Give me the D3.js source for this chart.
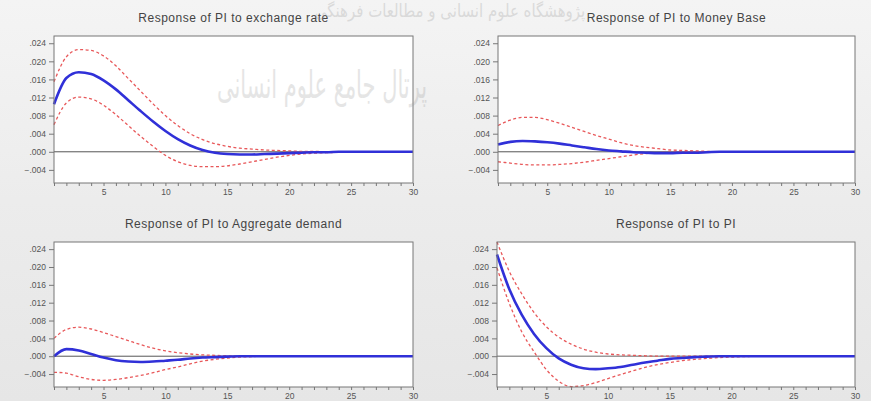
<!DOCTYPE html>
<html>
<head>
<meta charset="utf-8">
<script src="https://cdn.jsdelivr.net/npm/d3@7"></script>
<style>
  html, body { margin: 0; padding: 0; }
  body { width: 871px; height: 401px; overflow: hidden; }
  text { font-family: Arial, "Liberation Sans", sans-serif; }
</style>
</head>
<body>
<svg id="chart" width="871" height="401"></svg>
<script>
// periods 1..30
const periods = d3.range(1, 31);
const yTicks = [-0.004, 0, 0.004, 0.008, 0.012, 0.016, 0.020, 0.024];
const xTicks = [5, 10, 15, 20, 25, 30];

const titles = [
    "Response of PI to exchange rate",
    "Response of PI to Money Base",
    "Response of PI to Aggregate demand",
    "Response of PI to PI"
];

// response of PI to exchange rate
const exRate = [.0105, .0163, .0176, .0172, .0158, .0138, .0114, .0090, .0067, .0046,
    .0028, .0014, .0004, -.0002, -.0005, -.0006, -.0006, -.0005, -.0004, -.0003,
    -.0002, -.0001, -.0001, 0, 0, 0, 0, 0, 0, 0];
const exRateHi = [.0155, .0210, .0226, .0224, .0212, .0190, .0162, .0134, .0106, .0080,
    .0058, .0040, .0027, .0018, .0012, .0008, .0006, .0004, .0003, .0002,
    .0001, .0001, 0, 0, 0, 0, 0, 0, 0, 0];
const exRateLo = [.0060, .0108, .0121, .0117, .0103, .0082, .0058, .0034, .0012, -.0008,
    -.0022, -.0030, -.0033, -.0033, -.0031, -.0027, -.0022, -.0017, -.0012, -.0008,
    -.0005, -.0003, -.0002, -.0001, 0, 0, 0, 0, 0, 0];

// response of PI to money base
const money = [.0016, .0022, .0024, .0023, .0021, .0018, .0014, .0010, .0006, .0003,
    .0001, -.0001, -.0002, -.0003, -.0003, -.0002, -.0002, -.0001, 0, 0,
    0, 0, 0, 0, 0, 0, 0, 0, 0, 0];
const moneyHi = [.0058, .0070, .0076, .0076, .0071, .0063, .0054, .0045, .0036, .0028,
    .0020, .0014, .0010, .0007, .0004, .0003, .0002, .0001, 0, 0,
    0, 0, 0, 0, 0, 0, 0, 0, 0, 0];
const moneyLo = [-.0022, -.0025, -.0028, -.0029, -.0029, -.0028, -.0026, -.0023, -.0019, -.0015,
    -.0011, -.0007, -.0004, -.0002, -.0001, 0, 0, 0, 0, 0,
    0, 0, 0, 0, 0, 0, 0, 0, 0, 0];

// response of PI to aggregate demand
const demand = [0, .0016, .0013, .0005, -.0003, -.0009, -.0012, -.0013, -.0012, -.0010,
    -.0008, -.0005, -.0003, -.0002, -.0001, 0, 0, 0, 0, 0,
    0, 0, 0, 0, 0, 0, 0, 0, 0, 0];
const demandHi = [.0040, .0060, .0065, .0061, .0053, .0044, .0035, .0026, .0018, .0012,
    .0008, .0005, .0003, .0002, .0001, 0, 0, 0, 0, 0,
    0, 0, 0, 0, 0, 0, 0, 0, 0, 0];
const demandLo = [-.0036, -.0038, -.0046, -.0052, -.0054, -.0052, -.0048, -.0043, -.0037, -.0030,
    -.0024, -.0017, -.0011, -.0007, -.0004, -.0002, -.0001, 0, 0, 0,
    0, 0, 0, 0, 0, 0, 0, 0, 0, 0];

// response of PI to PI
const own = [.0228, .0150, .0093, .0050, .0018, -.0005, -.0019, -.0027, -.0029, -.0027,
    -.0024, -.0019, -.0014, -.0010, -.0006, -.0004, -.0002, -.0001, 0, 0,
    0, 0, 0, 0, 0, 0, 0, 0, 0, 0];
const ownHi = [.0256, .0190, .0140, .0098, .0066, .0043, .0027, .0016, .0009, .0005,
    .0003, .0002, .0001, 0, 0, 0, 0, 0, 0, 0,
    0, 0, 0, 0, 0, 0, 0, 0, 0, 0];
const ownLo = [.0198, .0118, .0055, .0010, -.0030, -.0056, -.0068, -.0066, -.0059, -.0050,
    -.0041, -.0033, -.0025, -.0019, -.0014, -.0010, -.0007, -.0005, -.0003, -.0002,
    -.0001, 0, 0, 0, 0, 0, 0, 0, 0, 0];

const series = [
    [exRate, exRateHi, exRateLo],
    [money, moneyHi, moneyLo],
    [demand, demandHi, demandLo],
    [own, ownHi, ownLo]
];

// plot boxes
const boxes = [
    { x0: 54, x1: 413, y0: 36, y1: 183 },
    { x0: 498, x1: 855, y0: 36, y1: 183 },
    { x0: 54, x1: 413, y0: 242, y1: 387 },
    { x0: 497, x1: 855, y0: 242, y1: 387 }
];

const svg = d3.select("#chart");

// background
const defs = svg.append("defs");
const grad = defs.append("linearGradient")
    .attr("id", "bg")
    .attr("x1", 0).attr("y1", 0).attr("x2", 0).attr("y2", 1);
grad.append("stop").attr("offset", "0%").attr("stop-color", "#f4f4f4");
grad.append("stop").attr("offset", "50%").attr("stop-color", "#ececec");
grad.append("stop").attr("offset", "100%").attr("stop-color", "#e6e6e6");
svg.append("rect").attr("width", 871).attr("height", 401).attr("fill", "url(#bg)");

const fmt = d => d === 0 ? ".000" : d3.format(".3f")(d).replace("0.", ".");

boxes.forEach((b, i) => {
    const g = svg.append("g");
    const x = d3.scaleLinear().domain([1, 30]).range([b.x0, b.x1]);
    const y = d3.scaleLinear().domain([-0.0069, 0.0256]).range([b.y1, b.y0]);

    g.append("rect")
        .attr("x", b.x0).attr("y", b.y0)
        .attr("width", b.x1 - b.x0).attr("height", b.y1 - b.y0)
        .attr("fill", "#fff");

    // zero line
    g.append("line")
        .attr("x1", b.x0).attr("x2", b.x1)
        .attr("y1", y(0)).attr("y2", y(0))
        .attr("stroke", i === 3 ? "#999" : "#555")
        .attr("stroke-width", i === 3 ? 1.5 : 1);

    const line = d3.line()
        .x((d, k) => x(periods[k]))
        .y(d => y(d))
        .curve(d3.curveMonotoneX);

    const [mid, hi, lo] = series[i];
    [hi, lo].forEach(s => {
        g.append("path")
            .datum(s)
            .attr("d", line)
            .attr("fill", "none")
            .attr("stroke", "#e8585a")
            .attr("stroke-width", 1.3)
            .attr("stroke-dasharray", "3,2.5");
    });
    g.append("path")
        .datum(mid)
        .attr("d", line)
        .attr("fill", "none")
        .attr("stroke", "#3030d8")
        .attr("stroke-width", 2.6);

    // axes
    const yAxis = d3.axisLeft(y).tickValues(yTicks).tickSize(5).tickSizeOuter(0).tickFormat(fmt);
    const ya = g.append("g").attr("transform", `translate(${b.x0},0)`).call(yAxis);
    const xAxis = d3.axisBottom(x).tickValues(periods).tickSize(3).tickSizeOuter(0)
        .tickFormat(d => xTicks.includes(d) ? d : "");
    const xa = g.append("g").attr("transform", `translate(0,${b.y1})`).call(xAxis);
    [ya, xa].forEach(a => {
        a.select(".domain").remove();
        a.selectAll("line").attr("stroke", "#777");
        a.selectAll("text")
            .attr("fill", "#555")
            .style("font-size", "8.5px");
    });
    xa.selectAll("text").attr("dy", "0.75em");

    g.append("rect")
        .attr("x", b.x0).attr("y", b.y0)
        .attr("width", b.x1 - b.x0).attr("height", b.y1 - b.y0)
        .attr("fill", "none")
        .attr("stroke", "#777");

    g.append("text")
        .attr("x", (b.x0 + b.x1) / 2)
        .attr("y", b.y0 - 14)
        .attr("text-anchor", "middle")
        .attr("fill", "#444")
        .style("font-size", "12px")
        .style("letter-spacing", "0.5px")
        .text(titles[i]);
});

// site watermark, faint
svg.append("text")
    .attr("transform", "translate(450,17) scale(1,1.2)")
    .attr("text-anchor", "middle")
    .attr("fill", "#999")
    .attr("opacity", 0.28)
    .style("font-family", "DejaVu Sans")
    .style("font-size", "15px")
    .text("پژوهشگاه علوم انسانی و مطالعات فرهنگی");
svg.append("text")
    .attr("transform", "translate(322,98) scale(1,1.8)")
    .attr("text-anchor", "middle")
    .attr("fill", "#999")
    .attr("opacity", 0.25)
    .style("font-family", "DejaVu Sans")
    .style("font-size", "21px")
    .text("پرتال جامع علوم انسانی");
</script>
</body>
</html>
